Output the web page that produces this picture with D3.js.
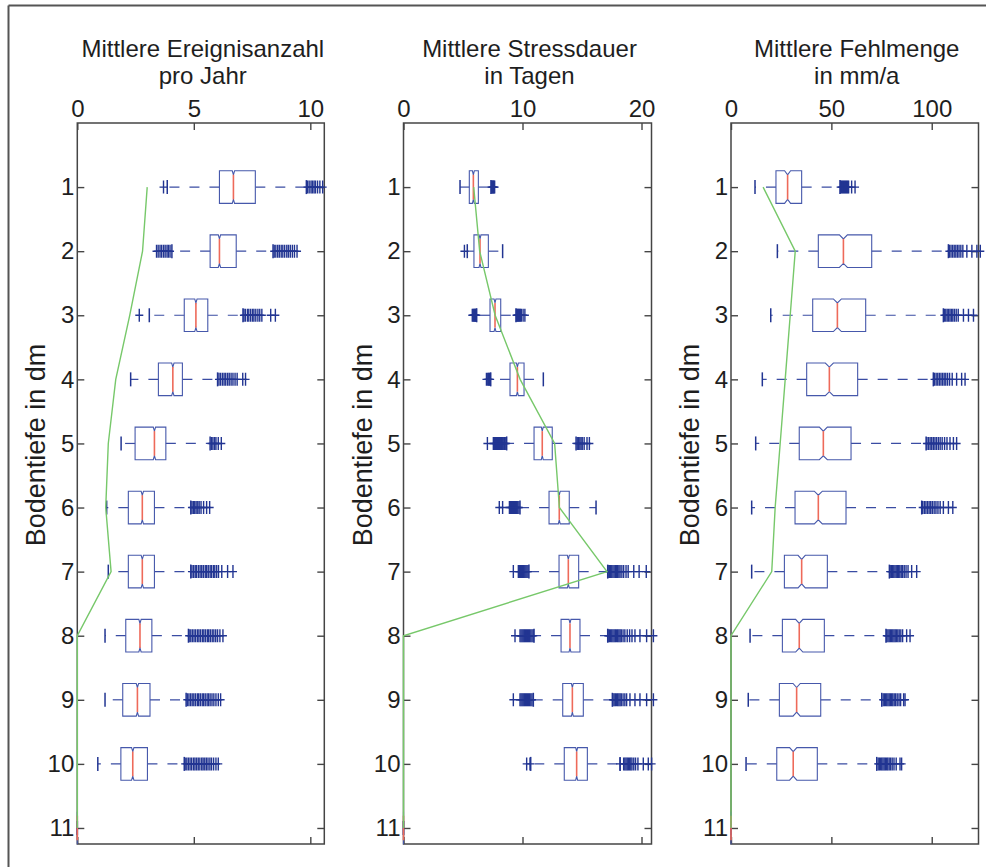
<!DOCTYPE html>
<html><head><meta charset="utf-8">
<script src="https://cdn.jsdelivr.net/npm/d3@7"></script>
<style>
body{margin:0;background:#fff}
svg text{font-family:"Liberation Sans",Arial,Helvetica,sans-serif;fill:#1e1e1e}
</style>
</head><body>
<svg id="chart" width="986" height="867"></svg>
<script>
// ---------------- DATA ----------------
const depths = [1,2,3,4,5,6,7,8,9,10,11];
const yTicks = [1,2,3,4,5,6,7,8,9,10,11];
const yLabel = "Bodentiefe in dm";

// Panel A: Mittlere Ereignisanzahl pro Jahr
const titleA = ["Mittlere Ereignisanzahl", "pro Jahr"];
const xTicksA = [0, 5, 10];
const q1A  = [6.10, 5.70, 4.59, 3.48, 2.48, 2.19, 2.19, 2.08, 1.95, 1.87, 0];
const medA = [6.70, 6.10, 5.09, 4.10, 3.31, 2.79, 2.79, 2.69, 2.58, 2.38, 0];
const q3A  = [7.64, 6.82, 5.60, 4.51, 3.80, 3.31, 3.31, 3.20, 3.12, 3.01, 0];
const loA  = [3.86, 4.06, 3.09, 2.29, 1.88, 1.26, 1.33, 1.19, 1.19, 0.88, 0];
const hiA  = [9.83, 8.40, 7.11, 6.02, 5.70, 4.87, 4.87, 4.77, 4.67, 4.59, 0];
const notchA = [0.05, 0.05, 0.05, 0.05, 0.05, 0.05, 0.05, 0.05, 0.05, 0.05, 0];
const outLoA = [
  [3.70],
  [3.40, 3.47, 3.55, 3.62, 3.70, 3.77, 3.85, 3.91, 3.98],
  [2.66],
  [], [], [], [], [], [], [], []
];
const outHiA = [
  [9.88, 9.95, 10.03, 10.09, 10.16, 10.22, 10.31, 10.41, 10.53],
  [8.45, 8.52, 8.60, 8.67, 8.75, 8.82, 8.90, 8.99, 9.06, 9.14, 9.23, 9.32, 9.43],
  [7.15, 7.21, 7.30, 7.36, 7.44, 7.52, 7.58, 7.66, 7.75, 7.83, 7.92, 8.30, 8.50],
  [6.08, 6.15, 6.23, 6.30, 6.37, 6.45, 6.52, 6.60, 6.68, 6.77, 6.86, 7.10, 7.22],
  [5.76, 5.82, 5.89, 5.95, 6.05, 6.18],
  [4.92, 4.98, 5.04, 5.10, 5.17, 5.23, 5.31, 5.42, 5.55, 5.68],
  [4.92, 4.99, 5.06, 5.12, 5.20, 5.27, 5.34, 5.41, 5.49, 5.55, 5.62, 5.70, 5.76, 5.84, 5.90, 5.98, 6.06, 6.20, 6.45, 6.68],
  [4.80, 4.87, 4.94, 5.01, 5.08, 5.16, 5.22, 5.29, 5.37, 5.43, 5.50, 5.58, 5.64, 5.71, 5.79, 5.86, 5.94, 6.02, 6.12, 6.25],
  [4.72, 4.79, 4.86, 4.93, 5.00, 5.07, 5.15, 5.21, 5.28, 5.36, 5.42, 5.49, 5.57, 5.63, 5.70, 5.78, 5.86, 5.95, 6.05, 6.15],
  [4.63, 4.70, 4.77, 4.84, 4.91, 4.99, 5.05, 5.12, 5.19, 5.26, 5.34, 5.40, 5.47, 5.54, 5.61, 5.69, 5.76, 5.85, 5.95, 6.05],
  []
];
const greenA = [3.0, 2.8, 2.25, 1.65, 1.33, 1.22, 1.45, 0, 0, 0, 0];

// Panel B: Mittlere Stressdauer in Tagen
const titleB = ["Mittlere Stressdauer", "in Tagen"];
const xTicksB = [0, 10, 20];
const q1B  = [5.53, 5.92, 7.27, 8.95, 10.97, 12.23, 13.07, 13.24, 13.38, 13.51, 0];
const medB = [5.87, 6.43, 7.69, 9.57, 11.66, 13.09, 13.85, 13.99, 14.19, 14.55, 0];
const q3B  = [6.29, 7.13, 8.17, 10.13, 12.50, 13.93, 14.72, 14.83, 15.11, 15.45, 0];
const loB  = [4.75, 5.36, 6.15, 7.33, 8.67, 9.79, 10.54, 10.97, 10.91, 10.69, 0];
const hiB  = [7.35, 8.33, 9.45, 11.75, 14.50, 16.18, 17.16, 17.16, 17.55, 18.20, 0];
const notchB = [0.08, 0.08, 0.08, 0.08, 0.08, 0.08, 0.08, 0.08, 0.08, 0.08, 0];
const outLoB = [
  [],
  [5.12],
  [5.78, 5.86, 5.92, 5.97, 6.02, 6.07, 6.11],
  [6.97, 7.08, 7.15, 7.22, 7.28],
  [7.05, 7.55, 7.64, 7.74, 7.82, 7.90, 7.99, 8.06, 8.14, 8.23, 8.30, 8.38, 8.47, 8.54, 8.62],
  [8.05, 8.33, 8.90, 8.98, 9.07, 9.15, 9.24, 9.33, 9.42, 9.51, 9.60, 9.70],
  [9.23, 9.65, 9.74, 9.83, 9.92, 10.01, 10.10, 10.19, 10.28, 10.37, 10.46],
  [9.37, 9.79, 9.88, 9.97, 10.06, 10.15, 10.24, 10.33, 10.42, 10.51, 10.60, 10.70, 10.80, 10.90],
  [9.23, 9.79, 9.88, 9.97, 10.06, 10.15, 10.24, 10.33, 10.42, 10.51, 10.60, 10.70, 10.80],
  [10.35, 10.63],
  []
];
const outHiB = [
  [7.40, 7.45, 7.50, 7.55, 7.60, 7.66],
  [],
  [9.50, 9.56, 9.62, 9.68, 9.75, 9.82, 9.90, 10.05, 10.20],
  [],
  [14.60, 14.72, 14.82, 14.92, 15.02, 15.18, 15.42, 15.62],
  [],
  [17.20, 17.30, 17.40, 17.50, 17.60, 17.70, 17.80, 17.90, 18.00, 18.10, 18.20, 18.35, 18.50, 18.70, 18.88, 19.35, 19.80, 20.40],
  [17.20, 17.30, 17.40, 17.50, 17.60, 17.70, 17.80, 17.90, 18.00, 18.10, 18.20, 18.30, 18.45, 18.60, 18.80, 19.00, 19.20, 19.45, 19.87, 20.43, 21.00],
  [17.60, 17.70, 17.80, 17.90, 18.00, 18.10, 18.20, 18.30, 18.45, 18.60, 18.75, 19.03, 19.45, 19.87, 20.43, 21.00],
  [18.20, 18.50, 18.60, 18.70, 18.80, 18.90, 19.00, 19.10, 19.20, 19.35, 19.50, 19.70, 20.15, 20.57, 20.85],
  []
];
const greenB = [5.9, 6.4, 7.7, 9.8, 12.7, 13.1, 17.1, 0, 0, 0, 0];

// Panel C: Mittlere Fehlmenge in mm/a
const titleC = ["Mittlere Fehlmenge", "in mm/a"];
const xTicksC = [0, 50, 100];
const q1C  = [22.4, 43.5, 40.7, 37.7, 34.0, 31.9, 26.6, 25.6, 24.1, 22.8, 0];
const medC = [28.2, 56.0, 53.0, 49.0, 46.0, 43.5, 35.2, 34.0, 32.7, 31.0, 0];
const q3C  = [35.2, 70.1, 67.1, 63.1, 59.8, 57.3, 48.0, 46.5, 44.7, 43.0, 0];
const loC  = [11.96, 23.1, 19.8, 15.6, 12.3, 10.3, 10.3, 9.5, 8.6, 7.5, 0];
const hiC  = [54.3, 108.3, 105.8, 100.8, 97.2, 95.0, 78.9, 77.2, 75.1, 72.6, 0];
const notchC = [1.5, 2.0, 2.0, 2.0, 2.0, 2.0, 1.8, 1.8, 1.8, 1.8, 0];
const outLoC = [[], [], [], [], [], [], [], [], [], [], []];
const outHiC = [
  [54.6, 55.1, 55.6, 56.1, 56.6, 57.1, 57.6, 58.1, 58.6, 60.1, 61.8],
  [108.8, 109.6, 110.4, 111.2, 112.0, 112.8, 113.6, 114.5, 115.5, 117.5, 120.0, 122.5, 124.2],
  [106.3, 107.0, 107.7, 108.4, 109.1, 109.8, 110.5, 111.3, 112.2, 113.2, 115.8, 118.3, 120.8],
  [101.4, 102.2, 103.0, 103.8, 104.6, 105.4, 106.2, 107.0, 107.9, 108.9, 110.2, 112.4, 114.9, 116.6],
  [97.6, 98.4, 99.2, 100.0, 100.8, 101.6, 102.4, 103.3, 104.2, 105.2, 106.4, 107.6, 109.1, 110.8, 112.4],
  [95.5, 96.3, 97.1, 97.9, 98.7, 99.5, 100.3, 101.2, 102.1, 103.1, 104.2, 105.8, 108.3, 110.5],
  [79.3, 79.9, 80.5, 81.1, 81.7, 82.3, 82.9, 83.5, 84.1, 84.8, 85.5, 86.3, 87.2, 88.2, 90.0, 92.5],
  [77.6, 78.2, 78.8, 79.4, 80.0, 80.6, 81.2, 81.8, 82.4, 83.1, 83.8, 84.6, 85.5, 87.5, 89.2],
  [75.8, 76.4, 77.0, 77.6, 78.2, 78.8, 79.4, 80.0, 80.6, 81.3, 82.0, 82.8, 83.7, 84.5, 86.0, 86.7],
  [73.3, 73.9, 74.5, 75.1, 75.7, 76.3, 76.9, 77.5, 78.1, 78.8, 79.5, 80.3, 81.2, 82.3, 84.2, 85.0],
  []
];
const greenC = [16, 32, 29.5, 27, 24.5, 22, 20.3, 0, 0, 0, 0];

// ---------------- LAYOUT ----------------
const C = {
  frame: "#454545", box: "#4658ab", whisk: "#3a4ca3", out: "#223592",
  med: "#ee6a5a", green: "#77c86a", border: "#555"
};
const FS = 24, FSY = 27;
const plotTop = 123, plotBottom = 844;
const svg = d3.select("#chart");

// outer border (top & left visible)
svg.append("line").attr("x1", 8.5).attr("x2", 986).attr("y1", 5.5).attr("y2", 5.5)
  .attr("stroke", C.border).attr("stroke-width", 2);
svg.append("line").attr("x1", 8.5).attr("x2", 8.5).attr("y1", 5.5).attr("y2", 867)
  .attr("stroke", C.border).attr("stroke-width", 2);

const y = d3.scaleLinear().domain([0, 11.25]).range([plotTop, plotBottom]);

const panels = [
  {x0: 77.3, x1: 324.3, max: 10.6, ticks: xTicksA, title: titleA, q1: q1A, med: medA, q3: q3A, lo: loA, hi: hiA, notch: notchA, outLo: outLoA, outHi: outHiA, green: greenA},
  {x0: 403.5, x1: 651.5, max: 20.84, ticks: xTicksB, title: titleB, q1: q1B, med: medB, q3: q3B, lo: loB, hi: hiB, notch: notchB, outLo: outLoB, outHi: outHiB, green: greenB},
  {x0: 731, x1: 978.5, max: 123.3, ticks: xTicksC, title: titleC, q1: q1C, med: medC, q3: q3C, lo: loC, hi: hiC, notch: notchC, outLo: outLoC, outHi: outHiC, green: greenC}
];

const halfH = 16.3, notchDepth = 4, capHalf = 7, plusH = 6.5, plusW = 4;

panels.forEach(p => {
  const x = d3.scaleLinear().domain([0, p.max]).range([p.x0, p.x1]);
  const g = svg.append("g");
  const cx = (p.x0 + p.x1) / 2 + 2;

  // titles
  g.append("text").attr("x", cx).attr("y", 57).attr("text-anchor", "middle")
    .attr("font-size", FS).text(p.title[0]);
  g.append("text").attr("x", cx).attr("y", 84).attr("text-anchor", "middle")
    .attr("font-size", FS).text(p.title[1]);

  // frame
  g.append("rect").attr("x", p.x0).attr("y", plotTop)
    .attr("width", p.x1 - p.x0).attr("height", plotBottom - plotTop)
    .attr("fill", "none").attr("stroke", C.frame).attr("stroke-width", 1.5);

  const styleAxis = sel => {
    sel.select(".domain").remove();
    sel.selectAll(".tick line").attr("stroke", C.frame).attr("stroke-width", 1.4);
    sel.selectAll(".tick text").attr("font-size", FS).attr("fill", "#1e1e1e")
      .style("font-family", '"Liberation Sans", Arial, sans-serif');
  };
  g.append("g").attr("transform", `translate(0,${plotTop})`)
    .call(d3.axisTop(x).tickValues(p.ticks).tickSize(-7).tickPadding(6).tickFormat(d3.format("d")))
    .call(styleAxis);
  g.append("g").attr("transform", `translate(0,${plotBottom})`)
    .call(d3.axisBottom(x).tickValues(p.ticks).tickSize(-7).tickFormat(""))
    .call(styleAxis);
  g.append("g").attr("transform", `translate(${p.x0},0)`)
    .call(d3.axisLeft(y).tickValues(yTicks).tickSize(-7).tickPadding(3).tickFormat(d3.format("d")))
    .call(styleAxis);
  g.append("g").attr("transform", `translate(${p.x1},0)`)
    .call(d3.axisRight(y).tickValues(yTicks).tickSize(-7).tickFormat(""))
    .call(styleAxis);

  // y label
  g.append("text").attr("transform", `translate(${p.x0 - 32},445) rotate(-90)`)
    .attr("text-anchor", "middle").attr("font-size", FSY).text(yLabel);

  // boxes
  depths.forEach((d, i) => {
    const yc = y(d);
    const bq1 = x(p.q1[i]), bq3 = x(p.q3[i]), bm = x(p.med[i]);
    const nLo = x(p.med[i] - p.notch[i]), nHi = x(p.med[i] + p.notch[i]);
    // whiskers (dashed)
    g.append("line").attr("x1", bq3).attr("x2", x(p.hi[i])).attr("y1", yc).attr("y2", yc)
      .attr("stroke", C.whisk).attr("stroke-width", 1.2).attr("stroke-dasharray", "10,10");
    g.append("line").attr("x1", bq1).attr("x2", x(p.lo[i])).attr("y1", yc).attr("y2", yc)
      .attr("stroke", C.whisk).attr("stroke-width", 1.2).attr("stroke-dasharray", "10,10");
    // caps
    [p.lo[i], p.hi[i]].forEach(v => {
      g.append("line").attr("x1", x(v)).attr("x2", x(v)).attr("y1", yc - capHalf).attr("y2", yc + capHalf)
        .attr("stroke", C.out).attr("stroke-width", 1.5);
    });
    // notched box
    const t = yc - halfH, b = yc + halfH;
    const pts = [[bq1, t], [nLo, t], [bm, t + notchDepth], [nHi, t], [bq3, t],
                 [bq3, b], [nHi, b], [bm, b - notchDepth], [nLo, b], [bq1, b]];
    g.append("path").attr("d", d3.line()(pts) + "Z")
      .attr("fill", "none").attr("stroke", C.box).attr("stroke-width", 1.1);
    // median
    g.append("line").attr("x1", bm).attr("x2", bm)
      .attr("y1", t + notchDepth).attr("y2", b - notchDepth)
      .attr("stroke", C.med).attr("stroke-width", 1.6);
    // outliers
    p.outLo[i].concat(p.outHi[i]).forEach(v => {
      const xv = x(v);
      g.append("path").attr("d", `M${xv - plusW},${yc}H${xv + plusW}M${xv},${yc - plusH}V${yc + plusH}`)
        .attr("stroke", C.out).attr("stroke-width", 1.4).attr("fill", "none");
    });
  });

  // green line
  g.append("path").datum(depths.map((d, i) => [x(p.green[i]), y(d)]))
    .attr("d", d3.line())
    .attr("fill", "none").attr("stroke", C.green).attr("stroke-width", 1.4);
});
</script>
</body></html>
